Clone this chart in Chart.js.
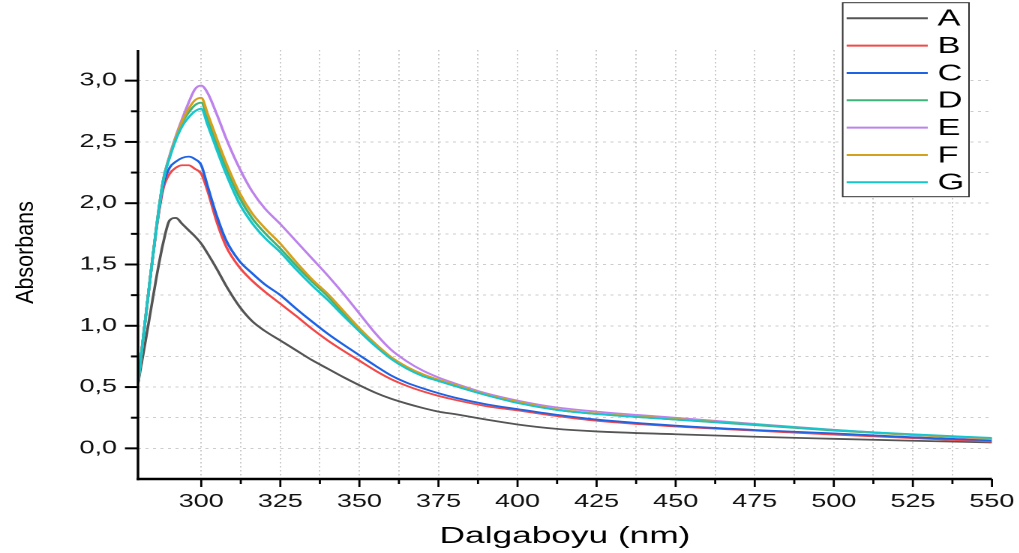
<!DOCTYPE html>
<html>
<head>
<meta charset="utf-8">
<script src="https://cdn.jsdelivr.net/npm/chart.js@4.4.1/dist/chart.umd.min.js"></script>
<style>
  html, body { margin: 0; padding: 0; background: #fff; }
  /* the reference is drawn wide: build the chart narrow and stretch it */
  #wrap { position: absolute; left: 0; top: 0; width: 679.33px; height: 553px; transform: scaleX(1.5); transform-origin: 0 0; }
</style>
</head>
<body>
<div id="wrap"><canvas id="chart"></canvas></div>
<script>
const wavelengths = [280, 282, 284, 286, 288, 290, 292, 294, 296, 298, 300, 302, 305, 308, 312, 316, 320, 325, 330, 335, 340, 345, 350, 355, 360, 365, 370, 375, 380, 390, 400, 412, 425, 450, 475, 500, 525, 550];

const seriesA = [0.53, 0.82, 1.12, 1.42, 1.68, 1.86, 1.88, 1.83, 1.78, 1.73, 1.67, 1.59, 1.46, 1.32, 1.16, 1.04, 0.96, 0.88, 0.80, 0.72, 0.65, 0.58, 0.515, 0.455, 0.405, 0.365, 0.33, 0.30, 0.28, 0.235, 0.195, 0.16, 0.138, 0.115, 0.095, 0.078, 0.062, 0.048];
const seriesB = [0.53, 0.98, 1.42, 1.82, 2.12, 2.24, 2.29, 2.31, 2.31, 2.28, 2.24, 2.10, 1.84, 1.64, 1.48, 1.37, 1.28, 1.18, 1.08, 0.975, 0.88, 0.795, 0.715, 0.635, 0.565, 0.51, 0.465, 0.428, 0.397, 0.345, 0.31, 0.265, 0.225, 0.178, 0.145, 0.112, 0.084, 0.055];
const seriesC = [0.53, 0.98, 1.42, 1.83, 2.15, 2.29, 2.34, 2.37, 2.38, 2.36, 2.31, 2.14, 1.89, 1.69, 1.53, 1.43, 1.34, 1.25, 1.14, 1.035, 0.935, 0.845, 0.76, 0.675, 0.595, 0.535, 0.49, 0.45, 0.415, 0.36, 0.32, 0.275, 0.235, 0.185, 0.15, 0.122, 0.09, 0.065];
const seriesD = [0.53, 0.98, 1.42, 1.84, 2.19, 2.38, 2.54, 2.66, 2.74, 2.80, 2.82, 2.69, 2.48, 2.28, 2.05, 1.88, 1.76, 1.63, 1.49, 1.36, 1.24, 1.10, 0.965, 0.84, 0.735, 0.655, 0.595, 0.55, 0.51, 0.435, 0.375, 0.315, 0.28, 0.235, 0.19, 0.145, 0.108, 0.078];
const seriesE = [0.53, 0.98, 1.42, 1.84, 2.19, 2.39, 2.55, 2.69, 2.82, 2.93, 2.96, 2.90, 2.72, 2.52, 2.29, 2.10, 1.96, 1.83, 1.69, 1.55, 1.41, 1.26, 1.10, 0.94, 0.805, 0.71, 0.635, 0.578, 0.532, 0.45, 0.39, 0.335, 0.30, 0.25, 0.20, 0.152, 0.11, 0.075];
const seriesF = [0.53, 0.98, 1.42, 1.84, 2.19, 2.38, 2.54, 2.67, 2.77, 2.84, 2.86, 2.73, 2.52, 2.32, 2.09, 1.92, 1.80, 1.67, 1.52, 1.38, 1.26, 1.12, 0.98, 0.855, 0.745, 0.665, 0.605, 0.56, 0.52, 0.44, 0.38, 0.32, 0.285, 0.24, 0.195, 0.15, 0.11, 0.08];
const seriesG = [0.53, 0.98, 1.42, 1.84, 2.19, 2.37, 2.52, 2.63, 2.70, 2.75, 2.77, 2.64, 2.43, 2.23, 2.00, 1.84, 1.72, 1.60, 1.46, 1.33, 1.21, 1.08, 0.955, 0.835, 0.73, 0.65, 0.59, 0.55, 0.51, 0.435, 0.37, 0.315, 0.28, 0.235, 0.195, 0.15, 0.115, 0.085];

const seriesNames = ['A', 'B', 'C', 'D', 'E', 'F', 'G'];
const seriesColors = ['#555555', '#f24848', '#1e63e4', '#3fb37a', '#bd82ec', '#d4a11e', '#17c5cc'];
const allSeries = [seriesA, seriesB, seriesC, seriesD, seriesE, seriesF, seriesG];

const xMajorTicks = [300, 325, 350, 375, 400, 425, 450, 475, 500, 525, 550];
const yMajorTicks = [0, 0.5, 1.0, 1.5, 2.0, 2.5, 3.0];

const STRETCH = 1.5;
const FONT = "'Liberation Sans', Arial, sans-serif";

function commaLabel(v) {
    return v.toFixed(1).replace('.', ',');
}

function isYMajor(v) {
    return yMajorTicks.some(t => Math.abs(t - v) < 1e-6);
}

// axis lines, tick marks, titles and the boxed legend
const framePlugin = {
    id: 'frame',
    afterDraw(chart) {
        const ctx = chart.ctx;
        const { left, right, top, bottom } = chart.chartArea;
        const xs = chart.scales.x;
        const ys = chart.scales.y;
        ctx.save();
        ctx.strokeStyle = '#000';
        ctx.lineCap = 'butt';

        // y ticks
        ctx.lineWidth = 2;
        ys.ticks.forEach(t => {
            if (t.value < -0.2 || t.value > 3.2) return;
            const py = ys.getPixelForValue(t.value);
            const len = isYMajor(t.value) ? 8.7 : 4.7;
            ctx.beginPath();
            ctx.moveTo(left - len, py);
            ctx.lineTo(left, py);
            ctx.stroke();
        });

        // x ticks
        ctx.lineWidth = 1.4;
        xs.ticks.forEach(t => {
            if (t.value <= 280) return;
            const px = xs.getPixelForValue(t.value);
            const len = xMajorTicks.includes(t.value) ? 8 : 5;
            ctx.beginPath();
            ctx.moveTo(px, bottom);
            ctx.lineTo(px, bottom + len);
            ctx.stroke();
        });

        // axis lines
        ctx.lineWidth = 1.7;
        ctx.beginPath();
        ctx.moveTo(left, top);
        ctx.lineTo(left, bottom + 1.2);
        ctx.stroke();
        ctx.lineWidth = 2.5;
        ctx.beginPath();
        ctx.moveTo(left - 0.85, bottom);
        ctx.lineTo(right, bottom);
        ctx.stroke();

        // titles
        ctx.fillStyle = '#000';
        ctx.font = '23.5px ' + FONT;
        ctx.textAlign = 'center';
        ctx.textBaseline = 'alphabetic';
        ctx.fillText('Dalgaboyu (nm)', (left + right) / 2, 543);

        ctx.save();
        ctx.translate(22.2, 252.5);
        ctx.rotate(-Math.PI / 2);
        ctx.scale(0.86, 1 / STRETCH);
        ctx.font = '25px ' + FONT;
        ctx.fillText('Absorbans', 0, 0);
        ctx.restore();

        // legend
        const bx = 561.8, by = 2.7, bw = 84.2, bh = 194;
        ctx.fillStyle = '#fff';
        ctx.fillRect(bx, by, bw, bh);
        ctx.strokeStyle = '#333';
        ctx.lineWidth = 1;
        ctx.strokeRect(bx, by, bw, bh);
        ctx.font = '23px ' + FONT;
        ctx.textAlign = 'left';
        ctx.textBaseline = 'middle';
        chart.data.datasets.forEach((ds, i) => {
            const ry = 18.3 + i * 27.33;
            ctx.strokeStyle = ds.borderColor;
            ctx.lineWidth = 2;
            ctx.beginPath();
            ctx.moveTo(564.4, ry);
            ctx.lineTo(618.5, ry);
            ctx.stroke();
            ctx.fillStyle = '#000';
            ctx.fillText(ds.label, 625, ry + 1);
        });
        ctx.restore();
    }
};

const datasets = allSeries.map((vals, i) => ({
    label: seriesNames[i],
    data: wavelengths.map((w, j) => ({ x: w, y: vals[j] })),
    borderColor: seriesColors[i],
    backgroundColor: seriesColors[i],
    borderWidth: 1.8,
    pointRadius: 0,
    cubicInterpolationMode: 'monotone',
    fill: false,
    order: allSeries.length - i
}));

new Chart(document.getElementById('chart'), {
    type: 'line',
    data: { datasets: datasets },
    options: {
        responsive: true,
        maintainAspectRatio: false,
        devicePixelRatio: 2,
        animation: false,
        layout: { padding: { top: 50, right: 18, left: 0, bottom: 0 } },
        plugins: {
            legend: { display: false },
            tooltip: { enabled: false }
        },
        scales: {
            x: {
                type: 'linear',
                min: 280,
                max: 550,
                afterFit: s => { s.height = 74; s.paddingLeft = 0; s.paddingRight = 0; },
                ticks: {
                    stepSize: 12.5,
                    autoSkip: false,
                    maxRotation: 0,
                    padding: 12,
                    color: '#111',
                    font: { family: FONT, size: 18 },
                    callback: v => xMajorTicks.includes(v) ? String(v) : ''
                },
                grid: {
                    color: c => (c.tick && (c.tick.value <= 280 || c.tick.value >= 550)) ? 'rgba(0,0,0,0)' : '#bdbdbd',
                    lineWidth: 0.8,
                    drawTicks: false
                },
                border: { display: false, dash: [1.5, 2.5] }
            },
            y: {
                min: -0.25,
                max: 3.25,
                afterFit: s => { s.width = 92; s.paddingTop = 0; s.paddingBottom = 0; },
                ticks: {
                    stepSize: 0.25,
                    padding: 14,
                    color: '#111',
                    font: { family: FONT, size: 18 },
                    callback: v => isYMajor(v) ? commaLabel(v) : ''
                },
                grid: {
                    color: c => (c.tick && (c.tick.value < -0.2 || c.tick.value > 3.2)) ? 'rgba(0,0,0,0)' : '#bdbdbd',
                    lineWidth: 0.8,
                    drawTicks: false
                },
                border: { display: false, dash: [2, 3] }
            }
        }
    },
    plugins: [framePlugin]
});
</script>
</body>
</html>
